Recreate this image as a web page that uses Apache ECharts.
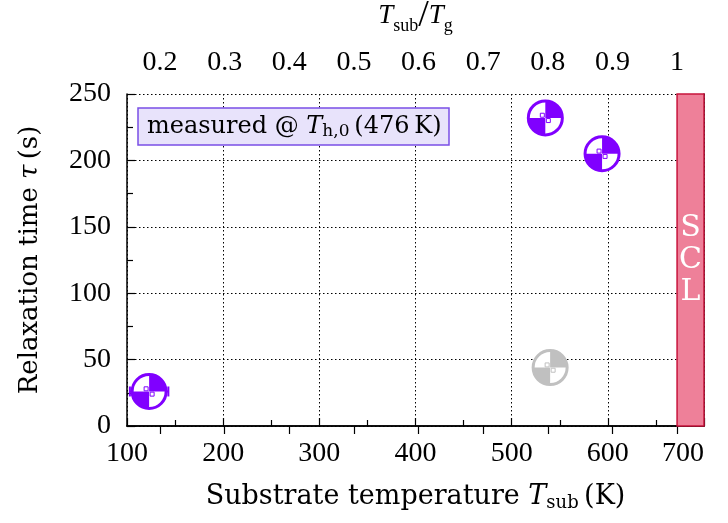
<!DOCTYPE html>
<html>
<head>
<meta charset="utf-8">
<script src="https://cdn.jsdelivr.net/npm/echarts@6/dist/echarts.min.js"></script>
<style>
  html, body { margin: 0; padding: 0; background: #fff; }
  #chart { width: 728px; height: 523px; }
</style>
</head>
<body>
<div id="chart"></div>
<script>
// glass transition temperature used for the top axis (K)
const TG = 672
// measured points
const tSub = [123, 535, 594]
const tau = [26, 232, 205]
const tSubErr = [20, 4, 4]
const tauErr = [2, 2, 2]
// grey (excluded) point
const tSubGrey = [540]
const tauGrey = [44]
const tauErrGrey = [2]
// top axis ticks (T_sub / T_g)
const ratioTicks = [0.2, 0.3, 0.4, 0.5, 0.6, 0.7, 0.8, 0.9, 1]
// supercooled liquid region
const sclRange = [TG, 700]

const FONT = 'Liberation Serif'
const TFONT = 'DejaVu Serif'
const PURPLE = '#8000ff'
const GREY = '#c0c0c0'

const chart = echarts.init(document.getElementById('chart'))

// quarter disc as polygon, a0..a1 in screen angles (y down)
function quarter (cx, cy, R, a0, a1) {
  const pts = [[cx, cy]]
  for (let k = 0; k <= 16; k++) {
    const a = a0 + (a1 - a0) * k / 16
    pts.push([cx + R * Math.cos(a), cy + R * Math.sin(a)])
  }
  return pts
}

function makeMarker (color) {
  return function (params, api) {
    const x = api.value(0)
    const y = api.value(1)
    const xe = api.value(2)
    const ye = api.value(3)
    const c = api.coord([x, y])
    const l = api.coord([x - xe, y])
    const r = api.coord([x + xe, y])
    const t = api.coord([x, y + ye])
    const b = api.coord([x, y - ye])
    const R = 17
    return {
      type: 'group',
      children: [
        { type: 'line', shape: { x1: l[0], y1: c[1], x2: r[0], y2: c[1] }, style: { stroke: color, lineWidth: 2 } },
        { type: 'line', shape: { x1: l[0], y1: c[1] - 5, x2: l[0], y2: c[1] + 5 }, style: { stroke: color, lineWidth: 2 } },
        { type: 'line', shape: { x1: r[0], y1: c[1] - 5, x2: r[0], y2: c[1] + 5 }, style: { stroke: color, lineWidth: 2 } },
        { type: 'circle', shape: { cx: c[0], cy: c[1], r: R }, style: { fill: '#fff', stroke: color, lineWidth: 3 } },
        // top-right quadrant
        { type: 'polygon', shape: { points: quarter(c[0], c[1], R, -Math.PI / 2, 0) }, style: { fill: color } },
        // bottom-left quadrant
        { type: 'polygon', shape: { points: quarter(c[0], c[1], R, Math.PI / 2, Math.PI) }, style: { fill: color } },
        { type: 'rect', shape: { x: c[0] - 5, y: t[1] - 2, width: 4, height: 4 }, style: { fill: '#fff', stroke: color, lineWidth: 1 } },
        { type: 'rect', shape: { x: c[0] + 1, y: b[1] - 2, width: 4, height: 4 }, style: { fill: '#fff', stroke: color, lineWidth: 1 } }
      ]
    }
  }
}

const option = {
  animation: false,
  backgroundColor: '#fff',
  textStyle: { fontFamily: FONT, color: '#000' },
  title: {
    text: 'measured @ {i|T}{s|h,0}\u2009(476\u2009K)',
    left: 138,
    top: 106,
    padding: [7, 8, 5, 9],
    backgroundColor: '#e8e3fb',
    borderColor: '#7a4fe6',
    borderWidth: 1.5,
    textStyle: {
      fontFamily: TFONT,
      fontWeight: 'normal',
      fontSize: 24,
      color: '#000',
      rich: {
        i: { fontFamily: TFONT, fontStyle: 'italic', fontSize: 24 },
        s: { fontFamily: TFONT, fontSize: 17, verticalAlign: 'bottom', padding: [10, 0, 0, 0] }
      }
    }
  },
  grid: { left: 127, right: 24, top: 94, bottom: 97, outerBoundsMode: 'none' },
  xAxis: [
    {
      type: 'value',
      position: 'bottom',
      min: 100,
      max: 700,
      interval: 100,
      name: 'Substrate temperature {i|T}{s|sub}\u2009(K)',
      nameLocation: 'middle',
      nameGap: 56,
      nameTextStyle: {
        fontFamily: TFONT,
        fontSize: 27,
        color: '#000',
        rich: {
          i: { fontFamily: TFONT, fontStyle: 'italic', fontSize: 27 },
          s: { fontFamily: TFONT, fontSize: 18, verticalAlign: 'bottom', padding: [12, 0, 0, 0] }
        }
      },
      axisLine: { show: true, lineStyle: { color: '#000', width: 1.5 } },
      axisTick: { inside: true, length: 8, lineStyle: { color: '#000', width: 1.2 } },
      minorTick: { show: true, splitNumber: 2, length: 6, lineStyle: { color: '#000', width: 1.2 } },
      axisLabel: { fontFamily: FONT, fontSize: 28, color: '#000', margin: 14, alignMaxLabel: 'right' },
      splitLine: { show: true, lineStyle: { color: '#000', type: [1.5, 2.5], width: 1 } }
    },
    {
      type: 'value',
      position: 'top',
      min: 100,
      max: 700,
      name: '{i|T}{s|sub}{sl|/}{i|T}{s|g}',
      nameLocation: 'middle',
      nameGap: 59,
      nameTextStyle: {
        fontFamily: FONT,
        fontSize: 27,
        color: '#000',
        rich: {
          i: { fontFamily: FONT, fontStyle: 'italic', fontSize: 27 },
          s: { fontFamily: FONT, fontSize: 18, verticalAlign: 'bottom', padding: [12, 0, 0, 0] },
          sl: { fontFamily: FONT, fontSize: 38 }
        }
      },
      axisLine: { show: true, lineStyle: { color: '#000', width: 1.5 } },
      axisTick: {
        inside: true,
        length: 8,
        customValues: ratioTicks.map(r => r * TG),
        lineStyle: { color: '#000', width: 1.2 }
      },
      axisLabel: {
        fontFamily: FONT,
        fontSize: 28,
        color: '#000',
        margin: 17,
        customValues: ratioTicks.map(r => r * TG),
        formatter: v => String(Math.round(v / TG * 10) / 10)
      },
      splitLine: { show: false }
    }
  ],
  yAxis: [
    {
      type: 'value',
      min: 0,
      max: 250,
      interval: 50,
      name: 'Relaxation time {i|\u03c4}\u2009(s)',
      nameLocation: 'middle',
      nameGap: 84,
      nameTextStyle: {
        fontFamily: TFONT,
        fontSize: 26,
        color: '#000',
        rich: {
          i: { fontFamily: TFONT, fontStyle: 'italic', fontSize: 26 }
        }
      },
      axisLine: { show: true, lineStyle: { color: '#000', width: 1.5 } },
      axisTick: { inside: true, length: 8, lineStyle: { color: '#000', width: 1.2 } },
      minorTick: { show: true, splitNumber: 2, length: 6, lineStyle: { color: '#000', width: 1.2 } },
      axisLabel: { fontFamily: FONT, fontSize: 28, color: '#000', margin: 16 },
      splitLine: { show: true, lineStyle: { color: '#000', type: [1.5, 2.5], width: 1 } }
    },
    {
      type: 'value',
      position: 'right',
      min: 0,
      max: 250,
      interval: 50,
      axisLine: { show: true, lineStyle: { color: '#000', width: 1.5 } },
      axisTick: { show: false },
      axisLabel: { show: false },
      splitLine: { show: false }
    }
  ],
  series: [
    {
      type: 'custom',
      name: 'grey',
      xAxisIndex: 0,
      yAxisIndex: 0,
      renderItem: makeMarker(GREY),
      data: tSubGrey.map((x, i) => [x, tauGrey[i], 0, tauErrGrey[i]]),
      z: 5,
      markArea: {
        silent: true,
        itemStyle: { color: '#ee8099', borderColor: '#c8143c', borderWidth: 1.5 },
        label: {
          show: true,
          position: 'inside',
          formatter: 'S\nC\nL',
          fontFamily: TFONT,
          fontSize: 30,
          lineHeight: 32,
          color: '#fff'
        },
        data: [[{ xAxis: sclRange[0], yAxis: 0 }, { xAxis: sclRange[1], yAxis: 250 }]]
      }
    },
    {
      type: 'custom',
      name: 'measured',
      xAxisIndex: 0,
      yAxisIndex: 0,
      renderItem: makeMarker(PURPLE),
      data: tSub.map((x, i) => [x, tau[i], tSubErr[i], tauErr[i]]),
      z: 6
    }
  ]
}

chart.setOption(option)
</script>
</body>
</html>
